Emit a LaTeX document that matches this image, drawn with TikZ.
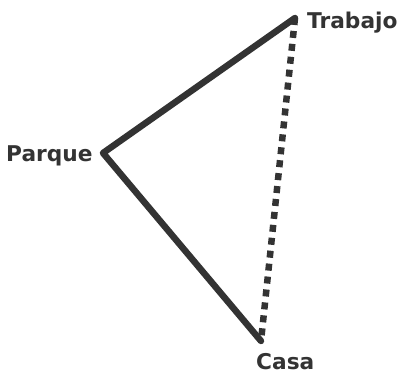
\documentclass[tikz,border=0pt]{standalone}
\usepackage{fontspec}
\setmainfont{DejaVu Sans}
\definecolor{ink}{HTML}{333333}
\begin{document}
\begin{tikzpicture}[x=1pt,y=-1pt,
  edge/.style={draw=ink,line width=6.5pt,line cap=round,line join=round},
  dotedge/.style={draw=ink,line width=6.5pt,dash pattern=on 7pt off 6pt},
  lbl/.style={text=ink,font=\bfseries\fontsize{21.7}{22}\selectfont,inner sep=0pt,text depth=0pt}]
\useasboundingbox (0,0) rectangle (401,374);
\coordinate (T) at (295,18);
\coordinate (P) at (103,153);
\coordinate (C) at (261,341);
\draw[edge] (T) -- (P) -- (C);
\draw[dotedge] (T) -- (C);
\node[lbl,anchor=base west] (tt) at (307,29) {Trabajo};
\node[lbl,anchor=base west] (tp) at (6,161) {Parque};
\node[lbl,anchor=base west] (tc) at (256,369) {Casa};
\end{tikzpicture}
\end{document}
